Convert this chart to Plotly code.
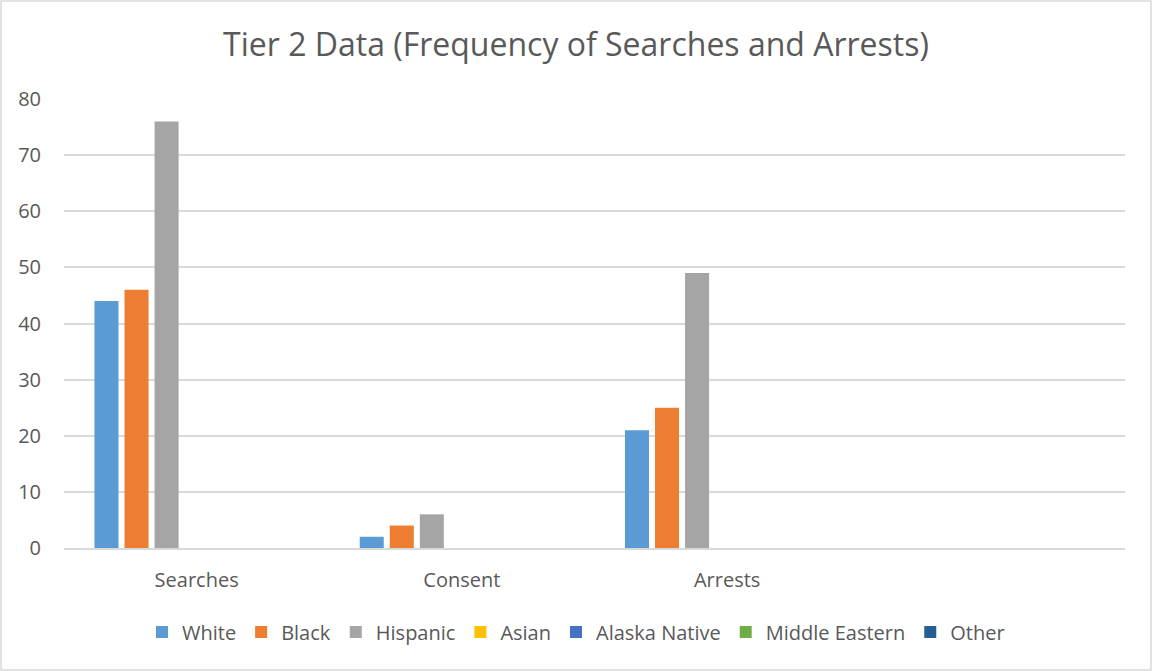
import plotly.graph_objects as go

categories = ["Searches", "Consent", "Arrests", " "]
series_names = ["White", "Black", "Hispanic", "Asian", "Alaska Native", "Middle Eastern", "Other"]
white = [44, 2, 21, 0]
black = [46, 4, 25, 0]
hispanic = [76, 6, 49, 0]
asian = [0, 0, 0, 0]
alaska_native = [0, 0, 0, 0]
middle_eastern = [0, 0, 0, 0]
other = [0, 0, 0, 0]
colors = ["#5B9BD5", "#ED7D31", "#A5A5A5", "#FFC000", "#4472C4", "#70AD47", "#255E91"]
y_ticks = [0, 10, 20, 30, 40, 50, 60, 70, 80]

values = [white, black, hispanic, asian, alaska_native, middle_eastern, other]

W, H = 1152, 671
ml, mr, mt, mb = 64, 27, 99, 123

fig = go.Figure()
for name, vals, col in zip(series_names, values, colors):
    fig.add_trace(go.Bar(x=categories, y=vals, name=name, marker=dict(color=col, line=dict(width=0))))

pw = W - ml - mr
ph = H - mt - mb

fig.update_layout(
    width=W, height=H,
    margin=dict(l=ml, r=mr, t=mt, b=mb, autoexpand=False),
    paper_bgcolor="white", plot_bgcolor="white",
    barmode="group", bargap=0.207, bargroupgap=0.2,
    title=dict(text="Tier 2 Data (Frequency of Searches and Arrests)",
               x=0.5, xanchor="center", xref="container", y=1 - 45 / H, yanchor="middle",
               font=dict(family="Open Sans", size=32, color="#595959")),
    font=dict(family="Open Sans", color="#595959", size=20),
    xaxis=dict(showgrid=False, showline=True, linecolor="#D9D9D9", linewidth=1.5,
               ticks="", tickfont=dict(size=20, color="#595959"), ticklabelstandoff=13,
               fixedrange=True),
    yaxis=dict(range=[0, 80], tickvals=y_ticks, showgrid=True, gridcolor="#D9D9D9", gridwidth=1.5,
               zeroline=False, showline=False, ticks="", ticklabelstandoff=22,
               tickfont=dict(size=20, color="#595959")),
    legend=dict(orientation="h", x=0.5, xanchor="center", xref="container",
                y=-(632 - (H - mb)) / ph, yanchor="middle",
                font=dict(size=20, color="#595959"), itemwidth=30, traceorder="normal"),
    showlegend=True,
)

# outer chart border
fig.add_shape(type="rect", xref="paper", yref="paper",
              x0=(1 - ml) / pw, x1=(W - 1 - ml) / pw,
              y0=-(mb - 1) / ph, y1=1 + (mt - 1) / ph,
              line=dict(color="#D9D9D9", width=1.5), fillcolor="rgba(0,0,0,0)", layer="below")

fig.write_html("out.html", config={"displayModeBar": False},
               post_script="document.body.style.margin='0';")
